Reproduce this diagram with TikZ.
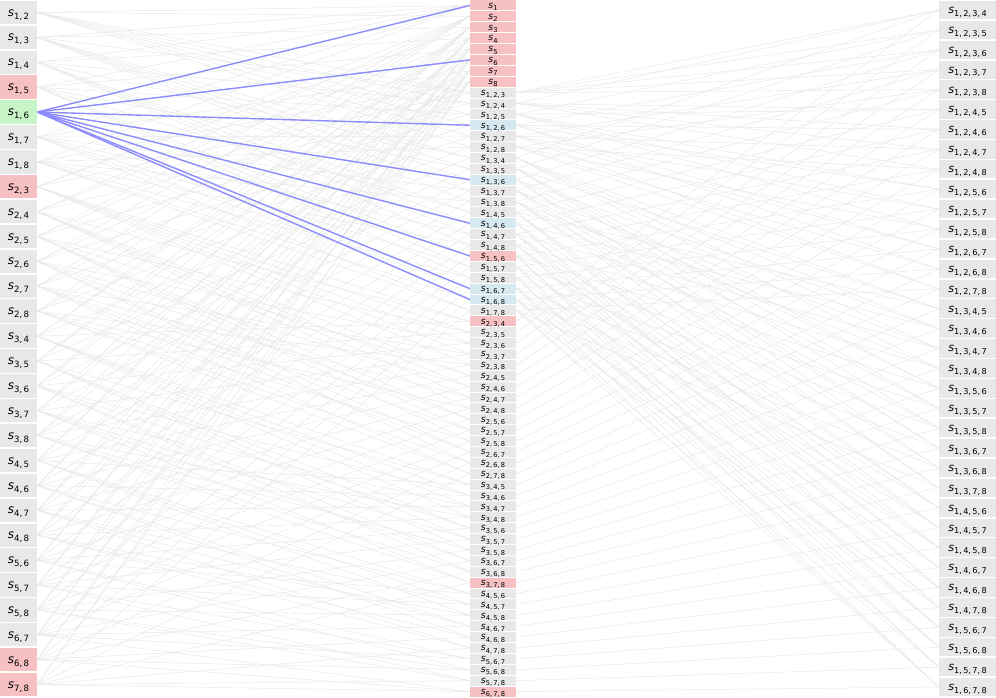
\documentclass[tikz,border=0pt]{standalone}
\usepackage{fontspec}
\newfontfamily\dv{DejaVu Sans}
\usetikzlibrary{backgrounds}
\definecolor{boxgray}{RGB}{232,232,232}
\definecolor{boxred}{RGB}{247,192,194}
\definecolor{boxgreen}{RGB}{200,245,200}
\definecolor{boxblue}{RGB}{214,232,240}
\definecolor{linegray}{RGB}{232,232,232}
\definecolor{hiblue}{RGB}{140,140,255}
\newcommand\slab[1]{\raisebox{-0.3em}[0pt][0pt]{{\itshape s}\raisebox{-0.25em}{\scalebox{0.72}{#1}}}}
\def\pairs{1/2/boxgray,1/3/boxgray,1/4/boxgray,1/5/boxred,1/6/boxgreen,1/7/boxgray,1/8/boxgray,2/3/boxred,2/4/boxgray,2/5/boxgray,2/6/boxgray,2/7/boxgray,2/8/boxgray,3/4/boxgray,3/5/boxgray,3/6/boxgray,3/7/boxgray,3/8/boxgray,4/5/boxgray,4/6/boxgray,4/7/boxgray,4/8/boxgray,5/6/boxgray,5/7/boxgray,5/8/boxgray,6/7/boxgray,6/8/boxred,7/8/boxred}
\def\triples{1/2/3/boxgray,1/2/4/boxgray,1/2/5/boxgray,1/2/6/boxblue,1/2/7/boxgray,1/2/8/boxgray,1/3/4/boxgray,1/3/5/boxgray,1/3/6/boxblue,1/3/7/boxgray,1/3/8/boxgray,1/4/5/boxgray,1/4/6/boxblue,1/4/7/boxgray,1/4/8/boxgray,1/5/6/boxred,1/5/7/boxgray,1/5/8/boxgray,1/6/7/boxblue,1/6/8/boxblue,1/7/8/boxgray,2/3/4/boxred,2/3/5/boxgray,2/3/6/boxgray,2/3/7/boxgray,2/3/8/boxgray,2/4/5/boxgray,2/4/6/boxgray,2/4/7/boxgray,2/4/8/boxgray,2/5/6/boxgray,2/5/7/boxgray,2/5/8/boxgray,2/6/7/boxgray,2/6/8/boxgray,2/7/8/boxgray,3/4/5/boxgray,3/4/6/boxgray,3/4/7/boxgray,3/4/8/boxgray,3/5/6/boxgray,3/5/7/boxgray,3/5/8/boxgray,3/6/7/boxgray,3/6/8/boxgray,3/7/8/boxred,4/5/6/boxgray,4/5/7/boxgray,4/5/8/boxgray,4/6/7/boxgray,4/6/8/boxgray,4/7/8/boxgray,5/6/7/boxgray,5/6/8/boxgray,5/7/8/boxgray,6/7/8/boxred}
\def\quads{2/3/4,2/3/5,2/3/6,2/3/7,2/3/8,2/4/5,2/4/6,2/4/7,2/4/8,2/5/6,2/5/7,2/5/8,2/6/7,2/6/8,2/7/8,3/4/5,3/4/6,3/4/7,3/4/8,3/5/6,3/5/7,3/5/8,3/6/7,3/6/8,3/7/8,4/5/6,4/5/7,4/5/8,4/6/7,4/6/8,4/7/8,5/6/7,5/6/8,5/7/8,6/7/8}
\tikzset{
  cell/.style={rectangle, inner sep=0pt, draw=none},
  lcell/.style={cell, minimum width=37pt, minimum height=23.4pt, font={\dv\fontsize{12}{14}\selectfont}},
  mcell/.style={cell, minimum width=46pt, minimum height=9.9pt, font={\dv\fontsize{9.3}{10}\selectfont}},
  rcell/.style={cell, minimum width=57pt, minimum height=18.4pt, fill=boxgray, font={\dv\fontsize{11.3}{12}\selectfont}},
  gline/.style={draw=linegray, line width=0.5pt},
  bline/.style={draw=hiblue, line width=1.4pt},
}
\begin{document}
\begin{tikzpicture}[x=1pt,y=1pt]
\useasboundingbox (0,0) rectangle (996,-697);
% left column: pairs
\foreach \a/\b/\col [count=\k from 0] in \pairs
  \node[lcell, fill=\col] (L\a\b) at (18.5,{-(\k+0.5)*24.893}) {\slab{\a,\,\b}};
% middle column: singletons and triples
\foreach \a [count=\k from 0] in {1,...,8}
  \node[mcell, fill=boxred] (M\a) at (493,{-(\k+0.5)*10.8906}) {\slab{\a}};
\foreach \a/\b/\c/\col [count=\k from 8] in \triples
  \node[mcell, fill=\col] (M\a\b\c) at (493,{-(\k+0.5)*10.8906}) {\slab{\a,\,\b,\,\c}};
% right column: quadruples
\foreach \a/\b/\c [count=\k from 0] in \quads
  \node[rcell] (R1\a\b\c) at (967.5,{-(\k+0.5)*19.914}) {\slab{1,\,\a,\,\b,\,\c}};
\begin{scope}[on background layer]
  \foreach \a/\b/\col in \pairs {
    \draw[gline] (L\a\b.east) -- (M\a.west);
    \draw[gline] (L\a\b.east) -- (M\b.west);
  }
  \foreach \a/\b/\c/\col in \triples {
    \draw[gline] (L\a\b.east) -- (M\a\b\c.west);
    \draw[gline] (L\a\c.east) -- (M\a\b\c.west);
    \draw[gline] (L\b\c.east) -- (M\a\b\c.west);
  }
  \foreach \a/\b/\c in \quads {
    \draw[gline] (M1\a\b.east) -- (R1\a\b\c.west);
    \draw[gline] (M1\a\c.east) -- (R1\a\b\c.west);
    \draw[gline] (M1\b\c.east) -- (R1\a\b\c.west);
    \draw[gline] (M\a\b\c.east) -- (R1\a\b\c.west);
  }
  \foreach \t in {1,6,126,136,146,156,167,168}
    \draw[bline] (L16.east) -- (M\t.west);
\end{scope}
\end{tikzpicture}
\end{document}
